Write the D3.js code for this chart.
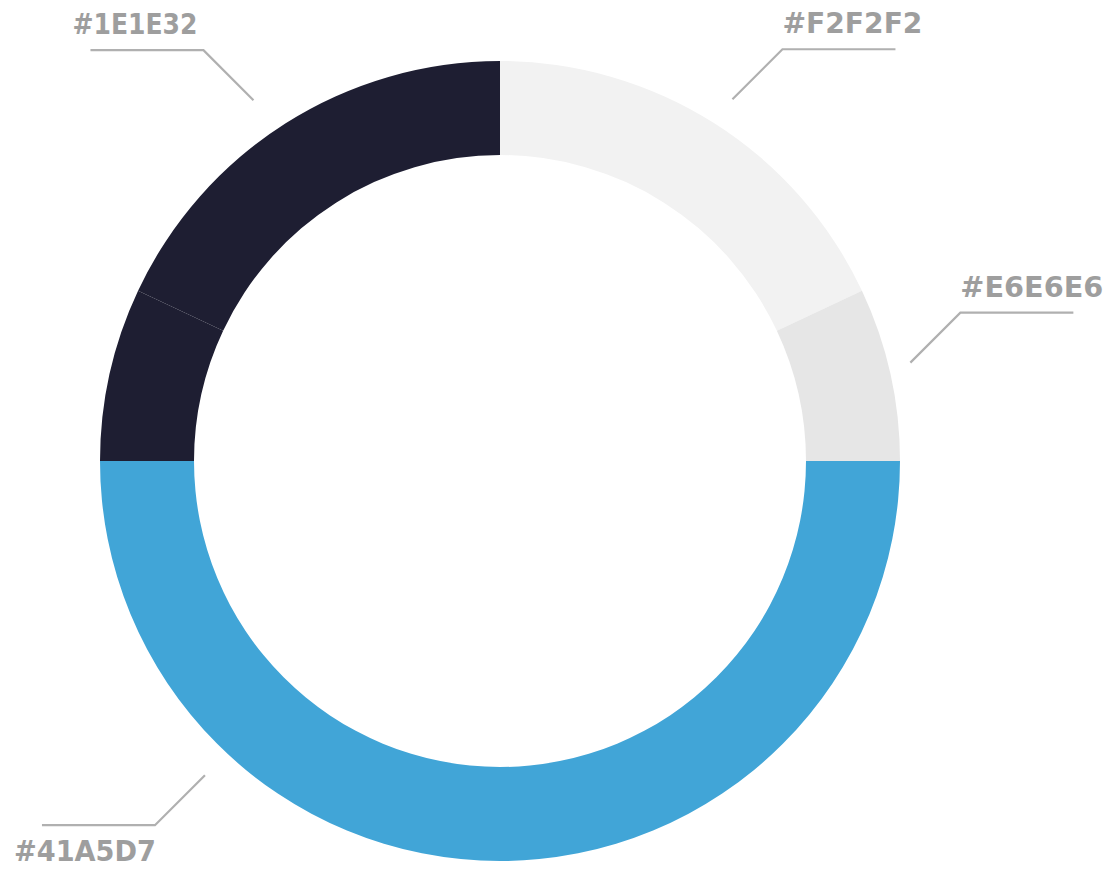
<!DOCTYPE html>
<html>
<head>
<meta charset="utf-8">
<script src="https://cdn.jsdelivr.net/npm/d3@7"></script>
<style>
  body { margin: 0; background: #fff; }
  .slice-label { font-family: 'DejaVu Sans', sans-serif; font-weight: bold; font-size: 28px; fill: #9e9e9e; }
  .leader { fill: none; stroke: #b0b0b0; stroke-width: 2.2; }
</style>
</head>
<body>
<div id="chart"></div>
<script>
// Slices clockwise from 12 o'clock
var categories = ['#F2F2F2', '#E6E6E6', '#41A5D7', '#1E1E32', '#1E1E32'];
var values = [18, 7, 50, 7, 18];
var colors = ['#f2f2f2', '#e6e6e6', '#41a5d7', '#1e1e32', '#1e1e32'];
var labels = ['#F2F2F2', '#E6E6E6', '#41A5D7', '', '#1E1E32'];

var width = 1113,
    height = 870,
    cx = 500,
    cy = 461,
    outerR = 400,
    innerR = 306;

var data = categories.map(function(c, i) {
    return {key: c, value: values[i], color: colors[i], label: labels[i]};
});

var svg = d3.select('#chart').append('svg')
    .attr('width', width)
    .attr('height', height);

var g = svg.append('g')
    .attr('transform', 'translate(' + cx + ',' + cy + ')');

var pie = d3.pie().sort(null).value(function(d) { return d.value; });
var arc = d3.arc().innerRadius(innerR).outerRadius(outerR);

var arcs = pie(data);

g.selectAll('path.slice')
    .data(arcs)
    .enter()
    .append('path')
    .attr('class', 'slice')
    .attr('d', arc)
    .attr('fill', function(d) { return d.data.color; });

// Leader lines: start outside the ring, 45deg elbow, then horizontal run
var elbow = 50,
    run = 113;

// where on the slice the leader starts (frac 0 = slice start, 1 = end), gap off the ring,
// and the label's width so the fallback font takes the same room
var leaderPos = {
    '#F2F2F2': {frac: 0.505, gap: 30, w: 140},
    '#E6E6E6': {frac: 0.465, gap: 22, w: 143},
    '#41A5D7': {frac: 0.74, gap: 31, w: 142},
    '#1E1E32': {frac: 0.47, gap: 37, w: 125}
};

var labelled = arcs.filter(function(d) { return d.data.label; });

var lab = g.selectAll('g.lab')
    .data(labelled)
    .enter()
    .append('g')
    .attr('class', 'lab');

lab.each(function(d) {
    var pos = leaderPos[d.data.label];
    var a = d.startAngle + (d.endAngle - d.startAngle) * pos.frac;
    var p0 = d3.pointRadial(a, outerR + pos.gap);
    var sx = p0[0] < 0 ? -1 : 1,
        sy = p0[1] < 0 ? -1 : 1;
    var p1 = [p0[0] + sx * elbow, p0[1] + sy * elbow];
    var p2 = [p1[0] + sx * run, p1[1]];
    var sel = d3.select(this);

    sel.append('path')
        .attr('class', 'leader')
        .attr('d', d3.line()([p0, p1, p2]));

    // left labels above the line sit a bit in from the elbow
    var tx = sx > 0 ? p1[0] : (sy < 0 ? p1[0] - 6 : p1[0] + 1);

    sel.append('text')
        .attr('class', 'slice-label')
        .attr('x', tx)
        .attr('y', sy < 0 ? p1[1] - 16 : p1[1] + 36)
        .attr('text-anchor', sx > 0 ? 'start' : 'end')
        .attr('textLength', pos.w)
        .attr('lengthAdjust', 'spacingAndGlyphs')
        .text(d.data.label);
});
</script>
</body>
</html>
